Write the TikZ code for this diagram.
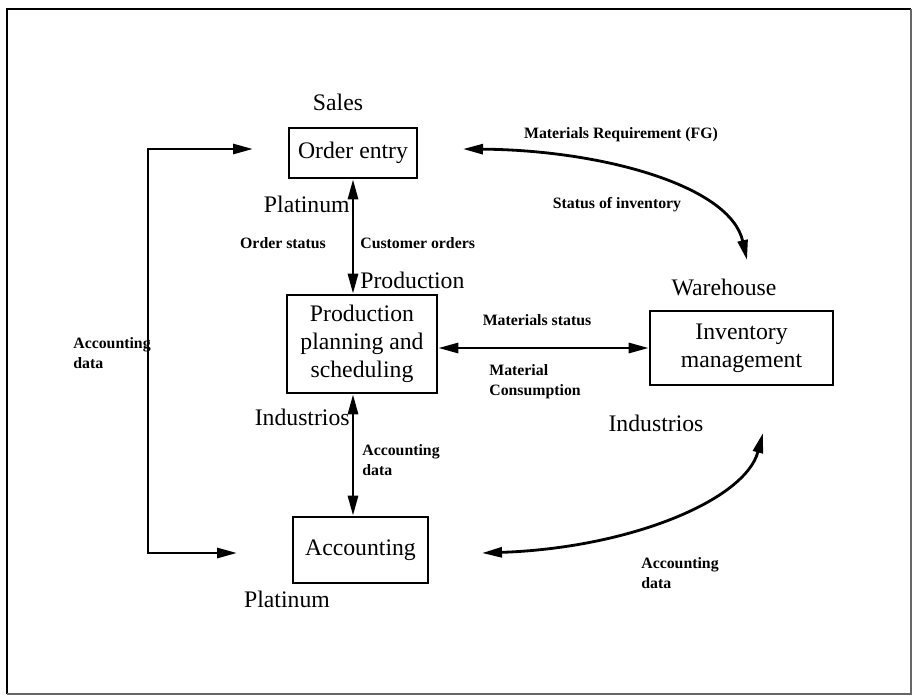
\documentclass[tikz,border=0pt]{standalone}
\usepackage{fontspec}
\setmainfont{Liberation Serif}
\usepackage{tikz}
\usetikzlibrary{arrows.meta,positioning}
\tikzset{
	frame/.style={
		rectangle, draw, line width=1.5pt,
		align=center, inner sep=0pt,
		font=\fontsize{13.5}{16}\selectfont,
	},
	line/.style={
		draw, line width=1.6pt,
		{Triangle[length=4mm,width=2mm]}-{Triangle[length=4mm,width=2mm]},
	},
	big/.style={font=\fontsize{13.5}{16}\selectfont, inner sep=0pt},
	lbl/.style={font=\fontsize{9}{11.5}\selectfont\bfseries, inner sep=0pt, align=left},
}

\begin{document}
\begin{tikzpicture}[x=0.02cm, y=-0.02cm]
		\useasboundingbox (0,0) rectangle (913,698);
		% outer frame
		\draw[line width=1.5pt] (7,694) -- (7,9) -- (911,9);
		\draw[line width=0.6pt, black!60] (7,694) -- (911,694) -- (911,9);
		
		\node [frame, minimum width=2.56cm, minimum height=1cm] (oe) at (353,153) {Order entry};
		\node [frame, minimum width=3cm, minimum height=1.96cm] (pps) at (362,344) {Production\\planning and\\scheduling};
		\node [frame, minimum width=3.66cm, minimum height=1.48cm] (inv) at (741.5,348) {Inventory\\management};
		\node [frame, minimum width=2.7cm, minimum height=1.32cm] (acc) at (360.5,550) {Accounting};
		
		\node [big] (sales) at (338,102) {Sales};
		\node [big, anchor=east] (plat1) at (350,204) {Platinum};
		\node [big, anchor=west] (prod) at (360,280) {Production};
		\node [big] (ware) at (724,287) {Warehouse};
		\node [big, anchor=east] (ind1) at (350,417) {Industrios};
		\node [big] (ind2) at (656,423) {Industrios};
		\node [big] (plat2) at (287,599) {Platinum};
		
		\node [lbl] (mreq) at (621,135) {Materials Requirement (FG)};
		\node [lbl] (sinv) at (617,205) {Status of inventory};
		\node [lbl] (ost) at (283,243) {Order status};
		\node [lbl, anchor=west] (cord) at (360,243) {Customer orders};
		\node [lbl] (mst) at (537,320) {Materials status};
		\node [lbl, anchor=west] (mcon) at (489,382) {Material\\Consumption};
		\node [lbl, anchor=west] (acd1) at (73,353) {Accounting\\data};
		\node [lbl, anchor=west] (acd2) at (362,460) {Accounting\\data};
		\node [lbl, anchor=west] (acd3) at (641,573) {Accounting\\data};
		
		% free ends of the connectors
		\coordinate (oein) at (253,149);
		\coordinate (accin) at (237,553);
		\coordinate (lft) at (148,351);
		\coordinate (oeout) at (463,149);
		\coordinate (wareup) at (747,260);
		\coordinate (accout) at (482,553);
		\coordinate (invdown) at (763,433);
		
		\path [line] (oein) -| (lft) |- (accin);
		\path [line] (oe.south) -- (oe.south |- pps.north);
		\path [line] (oe.south |- pps.south) -- (oe.south |- acc.north);
		\path [line] (inv.west -| pps.east) -- (inv.west);
		\path [line] (oeout) .. controls (600,150) and (730,185) .. (wareup);
		\path [line] (accout) .. controls (630,548) and (745,500) .. (invdown);
\end{tikzpicture}
\end{document}
